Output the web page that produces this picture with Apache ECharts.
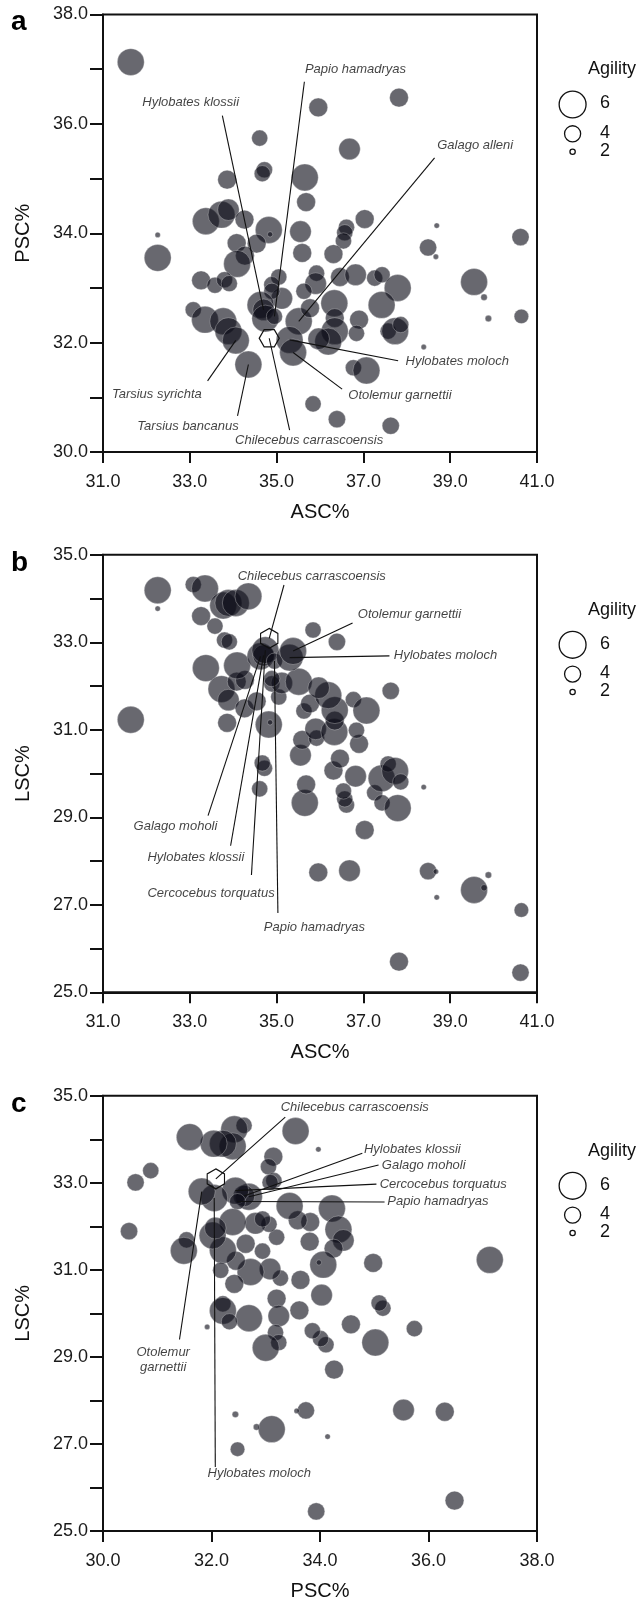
<!DOCTYPE html>
<html><head><meta charset="utf-8">
<script src="https://cdn.jsdelivr.net/npm/echarts@6/dist/echarts.min.js"></script>
<style>html,body{margin:0;padding:0;background:#fff}#c{width:643px;height:1602px}</style>
</head><body><div id="c"></div>
<script>
// ---- data (semicircular canal proportions, %) ----
const ASC = [31.64,37.82,35.96,36.68,34.61,34.72,34.67,33.86,35.65,35.68,
33.37,33.73,33.89,34.26,34.82,34.85,35.55,37.03,36.61,36.57,
36.54,34.08,34.54,34.27,34.09,35.59,36.31,33.26,33.58,33.80,
33.91,35.05,34.89,35.12,34.89,35.92,35.90,35.63,36.46,36.82,
37.26,37.43,37.79,37.42,33.08,33.35,33.77,33.89,34.06,34.35,
34.63,34.70,34.74,34.95,35.51,35.77,36.33,36.34,36.34,36.19,
35.97,36.90,36.84,37.57,37.73,37.86,35.30,35.38,36.77,37.07,
35.84,36.39,37.63,32.26,32.26,38.69,38.49,38.67,40.62,39.55,
39.78,39.88,40.64,38.39];
const PSC = [37.13,36.48,36.30,35.54,35.74,35.16,35.09,34.98,35.02,34.57,
34.22,34.34,34.43,34.25,34.06,33.98,34.03,34.26,34.11,34.01,
33.86,33.82,33.81,33.59,33.44,33.64,33.62,33.14,33.05,33.15,
33.08,33.20,33.06,32.81,32.94,33.27,33.08,32.94,33.20,33.24,
33.18,33.24,33.00,32.69,32.60,32.42,32.39,32.21,32.04,31.60,
32.69,32.60,32.44,32.48,32.39,32.63,32.72,32.45,32.21,32.02,
32.07,32.42,32.17,32.21,32.21,32.33,32.05,31.82,31.54,31.49,
30.88,30.60,30.48,33.97,33.55,34.14,33.74,33.57,33.93,33.11,
32.83,32.44,32.48,31.92];
const LSC = [31.23,25.70,27.74,27.78,29.65,30.12,30.24,31.16,29.33,29.75,
32.41,31.93,31.68,31.49,31.12,31.17,30.42,28.71,29.28,29.42,
29.60,32.10,31.65,32.14,32.47,30.77,30.07,33.60,33.37,33.05,
33.01,31.75,32.05,32.07,32.17,30.81,31.02,31.43,30.34,29.94,
29.56,29.33,29.21,29.89,34.32,34.23,33.84,33.90,33.90,34.05,
32.68,32.70,32.82,32.57,32.10,31.60,30.95,31.21,31.45,31.79,
31.96,30.68,30.99,30.22,30.06,29.81,32.65,32.80,31.69,31.44,
33.28,33.01,31.89,33.77,34.19,27.17,27.77,27.76,25.45,27.34,
27.39,27.68,26.88,29.69];
const AGILITY = [6,4.5,4.5,5,4,4,4,4.5,6,4.5,
6,6,5,4.5,6,2,5,4.5,4,4,
4,4.5,4.5,4.5,6,4.5,4.5,4.5,4,4,
4,4,4,5,4,4,5,4,4.5,5,
4,4,6,6,4,6,6,6,6,6,
6,5,6,4,6,4.5,6,4.5,6,6,
5,4.5,4,4,6,4,6,6,4,6,
4,4.2,4.2,2,6,2,4.2,2,4.2,6,
2.2,2.2,3.7,2];
// labelled extant species -> index in the arrays above
const LABELLED = {
  'Tarsius syrichta':48, 'Tarsius bancanus':49, 'Galago moholi':50,
  'Hylobates klossii':51, 'Cercocebus torquatus':52, 'Papio hamadryas':53,
  'Galago alleni':54, 'Hylobates moloch':66, 'Otolemur garnettii':67
};
// fossil
const FOSSIL_NAME = 'Chilecebus carrascoensis';
const FOSSIL_ASC = 34.83, FOSSIL_PSC = 32.08, FOSSIL_LSC = 33.09;
// axes / ticks
const TICKS_31_41 = [31,33,35,37,39,41];
const TICKS_30_38 = [30,32,34,36,38];
const YTICKS_30_38 = [30,31,32,33,34,35,36,37,38];
const YTICKS_25_35 = [25,26,27,28,29,30,31,32,33,34,35];
const YLABELS_25_35 = [25,27,29,31,33,35];
const LEGEND_VALUES = [6,4,2];

const FONT = 'Liberation Sans, Arial, Helvetica, sans-serif';
const sizeOf = a => 5.4*a - 5.5;

const fossilVals = {ASC:FOSSIL_ASC, PSC:FOSSIL_PSC, LSC:FOSSIL_LSC};
const cols = {ASC, PSC, LSC};
function pt(name, xk, yk){
  if (name === FOSSIL_NAME) return [fossilVals[xk], fossilVals[yk]];
  const i = LABELLED[name]; return [cols[xk][i], cols[yk][i]];
}

const HEX_FLAT = 'path://M0,8.66 L5,0 L15,0 L20,8.66 L15,17.32 L5,17.32 Z';
const HEX_POINT = 'path://M8.66,0 L17.32,5 L17.32,15 L8.66,20 L0,15 L0,5 Z';

const panels = [
  {letter:'a', xk:'ASC', yk:'PSC', xMin:31, xMax:41, yMin:30, yMax:38,
   xTicks:TICKS_31_41, yTicks:YTICKS_30_38, yLabels:TICKS_30_38, top:14.5,
   hex:HEX_FLAT, hexSize:[20,17.3],
   ann:[
    {n:'Papio hamadryas', t:[35.64,36.99], al:'left', f:[35.64,36.77]},
    {n:'Hylobates klossii', t:[33.02,36.39], al:'center', f:[33.75,36.15]},
    {n:'Galago alleni', t:[38.69,35.60], al:'left', f:[38.64,35.38]},
    {n:'Hylobates moloch', t:[37.96,31.65], al:'left', f:[37.80,31.67]},
    {n:'Otolemur garnettii', t:[36.64,31.04], al:'left', f:[36.51,31.15]},
    {n:'Tarsius syrichta', t:[32.24,31.05], al:'center', f:[33.41,31.30]},
    {n:'Tarsius bancanus', t:[32.96,30.47], al:'center', f:[34.10,30.66]},
    {n:'Chilecebus carrascoensis', t:[35.75,30.21], al:'center', f:[35.30,30.40]}
   ]},
  {letter:'b', xk:'ASC', yk:'LSC', xMin:31, xMax:41, yMin:25, yMax:35,
   xTicks:TICKS_31_41, yTicks:YTICKS_25_35, yLabels:YLABELS_25_35, top:554.8,
   hex:HEX_POINT, hexSize:[17.3,20],
   ann:[
    {n:'Chilecebus carrascoensis', t:[35.81,34.50], al:'center', f:[35.17,34.31]},
    {n:'Otolemur garnettii', t:[36.86,33.64], al:'left', f:[36.75,33.44]},
    {n:'Hylobates moloch', t:[37.69,32.69], al:'left', f:[37.60,32.69]},
    {n:'Galago moholi', t:[32.67,28.79], al:'center', f:[33.42,29.04]},
    {n:'Hylobates klossii', t:[33.14,28.08], al:'center', f:[33.94,28.35]},
    {n:'Cercocebus torquatus', t:[33.49,27.27], al:'center', f:[34.42,27.68]},
    {n:'Papio hamadryas', t:[35.87,26.48], al:'center', f:[35.03,26.81]}
   ]},
  {letter:'c', xk:'PSC', yk:'LSC', xMin:30, xMax:38, yMin:25, yMax:35,
   xTicks:TICKS_30_38, yTicks:YTICKS_25_35, yLabels:YLABELS_25_35, top:1095.8,
   hex:HEX_POINT, hexSize:[17.3,20],
   ann:[
    {n:'Chilecebus carrascoensis', t:[34.64,34.73], al:'center', f:[33.36,34.51]},
    {n:'Hylobates klossii', t:[34.80,33.76], al:'left', f:[34.78,33.68]},
    {n:'Galago moholi', t:[35.13,33.39], al:'left', f:[35.08,33.41]},
    {n:'Cercocebus torquatus', t:[35.09,32.97], al:'left', f:[35.04,32.97]},
    {n:'Papio hamadryas', t:[35.23,32.58], al:'left', f:[35.19,32.56]},
    {n:'Otolemur garnettii', t:[31.11,28.93], al:'center', f:[31.41,29.40], txt:'Otolemur\ngarnettii'},
    {n:'Hylobates moloch', t:[32.88,26.32], al:'center', f:[32.07,26.47]}
   ]}
];

const GL = 103, GW = 434, GH = 437.5;
const grids=[], xAxes=[], yAxes=[], series=[], graphics=[];
panels.forEach((p, i) => {
  grids.push({left:GL, top:p.top, width:GW, height:GH, show:true,
    borderColor:'#111', borderWidth:2, backgroundColor:'transparent'});
  xAxes.push({gridIndex:i, type:'value', min:p.xMin, max:p.xMax,
    name:p.xk+'%', nameLocation:'middle', nameGap:50,
    nameTextStyle:{fontSize:20, color:'#111', fontFamily:FONT},
    axisLine:{show:true, onZero:false, lineStyle:{color:'#111', width:2}},
    axisTick:{show:true, length:11, customValues:p.xTicks, lineStyle:{color:'#111', width:2}},
    axisLabel:{customValues:p.xTicks, formatter:v=>Number(v).toFixed(1), fontSize:18, margin:21, color:'#1a1a1a', fontFamily:FONT},
    splitLine:{show:false}});
  yAxes.push({gridIndex:i, type:'value', min:p.yMin, max:p.yMax,
    name:p.yk+'%', nameLocation:'middle', nameGap:70,
    nameTextStyle:{fontSize:20, color:'#111', fontFamily:FONT},
    axisLine:{show:true, onZero:false, lineStyle:{color:'#111', width:2}},
    axisTick:{show:true, length:13, customValues:p.yTicks, lineStyle:{color:'#111', width:2}},
    axisLabel:{customValues:p.yLabels, formatter:v=>Number(v).toFixed(1), fontSize:18, margin:15, color:'#1a1a1a', fontFamily:FONT},
    splitLine:{show:false}});
  const xs = cols[p.xk], ys = cols[p.yk];
  series.push({type:'scatter', xAxisIndex:i, yAxisIndex:i, silent:true, animation:false, z:2,
    data: xs.map((v,k)=>[v, ys[k], AGILITY[k]]),
    symbolSize: d => sizeOf(d[2]),
    itemStyle:{color:'rgba(12,12,22,0.62)', borderColor:'rgba(235,235,235,0.45)', borderWidth:0.7, opacity:1}});
  series.push({type:'scatter', xAxisIndex:i, yAxisIndex:i, silent:true, animation:false, z:4,
    data:[[fossilVals[p.xk], fossilVals[p.yk]]], symbol:p.hex, symbolSize:p.hexSize,
    itemStyle:{color:'rgba(0,0,0,0)', borderColor:'#111', borderWidth:1.2, opacity:1}});
  series.push({type:'lines', coordinateSystem:'cartesian2d', xAxisIndex:i, yAxisIndex:i,
    silent:true, animation:false, z:5, polyline:false,
    data: p.ann.map(a => ({coords:[a.f, pt(a.n, p.xk, p.yk)]})),
    lineStyle:{color:'#111', width:1.1, opacity:1, curveness:0}});
  series.push({type:'scatter', xAxisIndex:i, yAxisIndex:i, silent:true, animation:false, z:6,
    symbolSize:1, itemStyle:{color:'rgba(0,0,0,0)'},
    data: p.ann.map(a => ({value:a.t, name:a.txt || a.n,
      label:{position: a.al==='left' ? 'right' : (a.al==='right' ? 'left' : 'inside'), distance:0}})),
    label:{show:true, formatter:'{b}', fontStyle:'italic', fontSize:13, color:'#111',
      fontFamily:FONT, lineHeight:15}});
  // panel letter
  graphics.push({type:'text', left:11, top:p.top - 6, style:{text:p.letter, font:'bold 28px '+FONT, fill:'#000'}});
  // agility legend
  graphics.push({type:'text', x:612, y:p.top+55, style:{text:'Agility', font:'18px '+FONT, fill:'#111', textAlign:'center', textVerticalAlign:'middle'}});
  const cy = [p.top+90, p.top+119.3, p.top+137.2];
  LEGEND_VALUES.forEach((a, j) => {
    graphics.push({type:'circle', shape:{cx:572.6, cy:cy[j], r:sizeOf(a)/2}, style:{fill:'none', stroke:'#111', lineWidth:1.3}});
    graphics.push({type:'text', x:600, y:cy[j]-1, style:{text:String(a), font:'18px '+FONT, fill:'#111', textAlign:'left', textVerticalAlign:'middle'}});
  });
});

const chart = echarts.init(document.getElementById('c'), null, {renderer:'canvas'});
chart.setOption({animation:false, backgroundColor:'#fff', grid:grids, xAxis:xAxes, yAxis:yAxes, series, graphic:graphics});
</script></body></html>
